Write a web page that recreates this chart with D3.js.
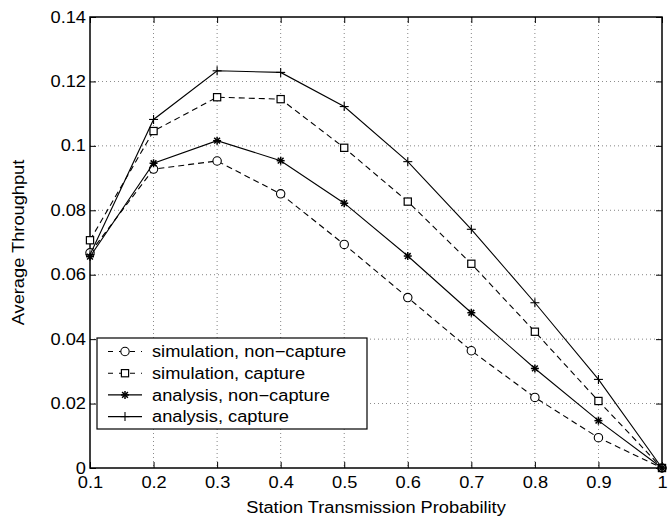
<!DOCTYPE html>
<html><head><meta charset="utf-8">
<script src="https://cdn.jsdelivr.net/npm/d3@7"></script>
<style>body{margin:0;background:#fff}svg{display:block}text{font-family:"Liberation Sans",Arial,sans-serif;fill:#000}</style>
</head><body><svg id="c" width="668" height="517"></svg>
<script>
const xValues = [0.1,0.2,0.3,0.4,0.5,0.6,0.7,0.8,0.9,1.0];
const simNonCapture = [0.0668,0.0928,0.0953,0.0851,0.0694,0.0529,0.0364,0.0219,0.0094,0];
const simCapture = [0.0707,0.1046,0.1151,0.1145,0.0994,0.0827,0.0634,0.0423,0.0208,0];
const anaNonCapture = [0.0656,0.0946,0.1016,0.0954,0.0822,0.0658,0.0482,0.0309,0.0147,0];
const anaCapture = [0.0662,0.1082,0.1233,0.1228,0.1122,0.0951,0.0741,0.0513,0.0275,0];
const xTicks = [0.1,0.2,0.3,0.4,0.5,0.6,0.7,0.8,0.9,1];
const yTicks = [0,0.02,0.04,0.06,0.08,0.1,0.12,0.14];
const seriesNames = ["simulation, non\u2212capture","simulation, capture","analysis, non\u2212capture","analysis, capture"];

const series = [
  {name:seriesNames[0], values:simNonCapture, dash:"6,4", marker:"circle"},
  {name:seriesNames[1], values:simCapture, dash:"6,4", marker:"square"},
  {name:seriesNames[2], values:anaNonCapture, dash:null, marker:"star"},
  {name:seriesNames[3], values:anaCapture, dash:null, marker:"plus"}
];

const FS=16;
const L=90,R=662,T=17,B=468;
const svg=d3.select("#c");
const x=d3.scaleLinear().domain([0.1,1]).range([L,R]);
const y=d3.scaleLinear().domain([0,0.14]).range([B,T]);

// grid
const g=svg.append("g");
g.selectAll(".gx").data(xTicks.slice(1,-1)).enter().append("line")
 .attr("x1",d=>x(d)).attr("x2",d=>x(d)).attr("y1",T).attr("y2",B)
 .attr("stroke","#000").attr("stroke-width",0.8).attr("stroke-dasharray","1,3").attr("opacity",0.6);
g.selectAll(".gy").data(yTicks.slice(1,-1)).enter().append("line")
 .attr("y1",d=>y(d)).attr("y2",d=>y(d)).attr("x1",L).attr("x2",R)
 .attr("stroke","#000").attr("stroke-width",0.8).attr("stroke-dasharray","1,3").attr("opacity",0.6);

// axes
const ax=d3.axisBottom(x).tickValues(xTicks).tickFormat(d=>d===1?"1":d3.format(".1f")(d)).tickSizeInner(-6).tickSizeOuter(0).tickPadding(9);
const ay=d3.axisLeft(y).tickValues(yTicks).tickFormat(d=>d===0?"0":(d===0.1?"0.1":d3.format(".2f")(d))).tickSizeInner(-6).tickSizeOuter(0).tickPadding(4);
const gx=svg.append("g").attr("transform",`translate(0,${B})`).call(ax);
const gy=svg.append("g").attr("transform",`translate(${L},0)`).call(ay);
svg.append("g").attr("transform",`translate(0,${T})`).call(d3.axisTop(x).tickValues(xTicks).tickFormat("").tickSizeInner(-6).tickSizeOuter(0));
svg.append("g").attr("transform",`translate(${R},0)`).call(d3.axisRight(y).tickValues(yTicks).tickFormat("").tickSizeInner(-6).tickSizeOuter(0));
svg.selectAll(".domain").remove();
svg.selectAll(".tick line").attr("stroke","#000").attr("stroke-width",1);
[gx,gy].forEach(a=>a.selectAll("text").attr("font-size",FS).attr("fill","#000").style("font-family","'Liberation Sans',Arial,sans-serif"));
svg.append("rect").attr("x",L).attr("y",T).attr("width",R-L).attr("height",B-T)
 .attr("fill","none").attr("stroke","#000").attr("stroke-width",1.5);

// axis labels
svg.append("text").attr("x",(L+R)/2).attr("y",513).attr("text-anchor","middle").attr("font-size",FS).text("Station Transmission Probability");
svg.append("text").attr("transform",`translate(24,${(T+B)/2}) rotate(-90)`).attr("text-anchor","middle").attr("font-size",FS).text("Average Throughput");

function drawMarker(sel,type,cx,cy){
  if(type==="circle") sel.append("circle").attr("cx",cx).attr("cy",cy).attr("r",4.2).attr("fill","#fff").attr("stroke","#000").attr("stroke-width",1.1);
  else if(type==="square") sel.append("rect").attr("x",cx-3.6).attr("y",cy-3.6).attr("width",7.2).attr("height",7.2).attr("fill","#fff").attr("stroke","#000").attr("stroke-width",1.2);
  else if(type==="star"){
    const s=4;
    [[0,s],[s,0],[s*0.72,s*0.72],[s*0.72,-s*0.72]].forEach(([dx,dy])=>
      sel.append("line").attr("x1",cx-dx).attr("y1",cy-dy).attr("x2",cx+dx).attr("y2",cy+dy).attr("stroke","#000").attr("stroke-width",1.5));
  } else if(type==="plus"){
    const s=4.5;
    sel.append("line").attr("x1",cx-s).attr("x2",cx+s).attr("y1",cy).attr("y2",cy).attr("stroke","#000").attr("stroke-width",1.1);
    sel.append("line").attr("x1",cx).attr("x2",cx).attr("y1",cy-s).attr("y2",cy+s).attr("stroke","#000").attr("stroke-width",1.1);
  }
}

const line=d3.line().x((d,i)=>x(xValues[i])).y(d=>y(d));
series.forEach(s=>{
  const gs=svg.append("g");
  gs.append("path").attr("d",line(s.values)).attr("fill","none").attr("stroke","#000").attr("stroke-width",1.1)
    .attr("stroke-dasharray",s.dash);
  s.values.forEach((v,i)=>drawMarker(gs,s.marker,x(xValues[i]),y(v)));
});

// legend
const lg=svg.append("g");
lg.append("rect").attr("x",97).attr("y",338).attr("width",270).attr("height",91).attr("fill","#fff").attr("stroke","#000").attr("stroke-width",1.2);
series.forEach((s,i)=>{
  const cy=351.5+i*21.7;
  lg.append("line").attr("x1",108).attr("x2",142).attr("y1",cy).attr("y2",cy).attr("stroke","#000").attr("stroke-width",1.1).attr("stroke-dasharray",s.dash?"5,6":null);
  drawMarker(lg,s.marker,125,cy);
  lg.append("text").attr("x",152).attr("y",cy).attr("dy","0.35em").attr("font-size",FS).text(s.name);
});

// widen glyphs to match the reference's wider Helvetica rendering
svg.selectAll("text").each(function(){
  const l=this.getComputedTextLength();
  this.setAttribute("textLength",l*1.14);
  this.setAttribute("lengthAdjust","spacingAndGlyphs");
});
</script></body></html>
